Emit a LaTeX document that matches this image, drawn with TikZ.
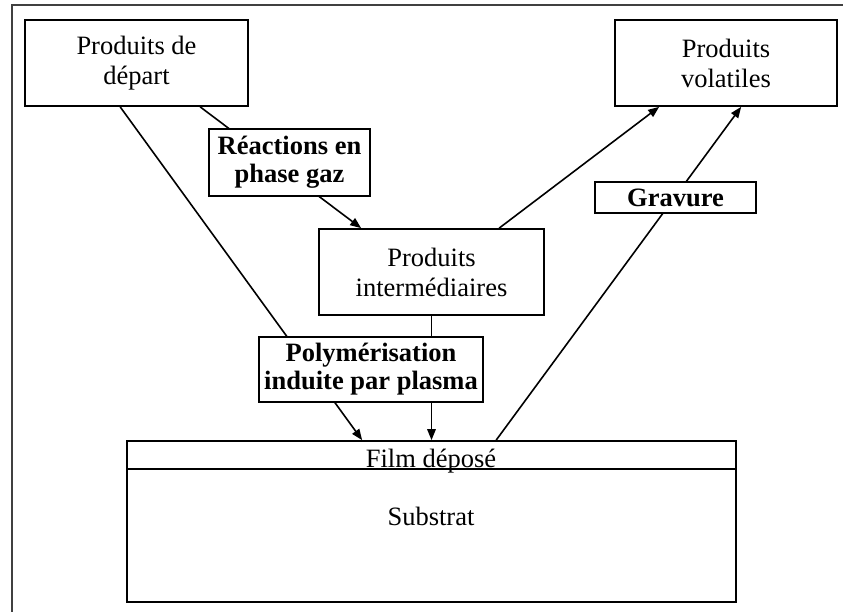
\documentclass[tikz,border=0pt]{standalone}
\usepackage{fontspec}
\setmainfont{Liberation Serif}
\usetikzlibrary{arrows.meta}
\tikzset{
  boxn/.style={draw=black, line width=1.7pt, fill=white, inner sep=0pt, align=center,
    font=\fontsize{26.5}{30}\selectfont},
  boldn/.style={boxn, font=\fontsize{26.5}{28}\selectfont\bfseries},
  conn/.style={draw=black, line width=1.6pt},
  arr/.style={conn, -{Triangle[length=11pt, width=8.5pt]}},
  frame/.style={draw=black!75, line width=2.2pt},
  plain/.style={inner sep=0pt, font=\fontsize{26.5}{30}\selectfont}
}
\begin{document}
\begin{tikzpicture}[x=1pt, y=-1pt]
\useasboundingbox (0,0) rectangle (843,612);
% outer frame (cropped)
\draw[frame] (12,612) -- (12,5) -- (843,5);

\node[boxn, minimum width=223pt, minimum height=86pt] (pd) at (136.5,63) {Produits de\\départ};
\node[boxn, minimum width=222pt, minimum height=86pt] (pv) at (726,63) {Produits\\volatiles};
\node[boxn, minimum width=225pt, minimum height=86pt] (pi) at (431.5,272) {Produits\\intermédiaires};
\node[boxn, minimum width=609pt, minimum height=161pt] (sub) at (431.5,521.5) {};

% connectors
\draw[arr] ([xshift=96pt]pd.south west) -- ([xshift=236pt]sub.north west);
\draw[arr] ([xshift=176pt]pd.south west) -- ([xshift=43pt]pi.north west);
\draw[arr] ([xshift=181pt]pi.north west) -- ([xshift=45pt]pv.south west);
\draw[arr] ([xshift=370pt]sub.north west) -- ([xshift=127pt]pv.south west);
\draw[arr] (pi.south) -- (pi.south |- sub.north);

% boxes drawn over connectors
\node[boldn, minimum width=161pt, minimum height=67pt] (rg) at (289.5,162.5) {Réactions en\\phase gaz};
\node[boldn, minimum width=224pt, minimum height=65pt] (pp) at (371,369.5) {Polymérisation\\induite par plasma};
\node[boldn, minimum width=161pt, minimum height=31pt] (gr) at (675.5,197.5) {Gravure};

% substrate layers
\coordinate (fl) at (127,469);
\coordinate (fr) at (736,469);
\draw[draw=black, line width=1.7pt] (fl) -- (fr);
\node[plain, anchor=base] (film) at (431,467) {Film déposé};
\node[plain, anchor=base] (subtxt) at (431,525) {Substrat};
\end{tikzpicture}
\end{document}
